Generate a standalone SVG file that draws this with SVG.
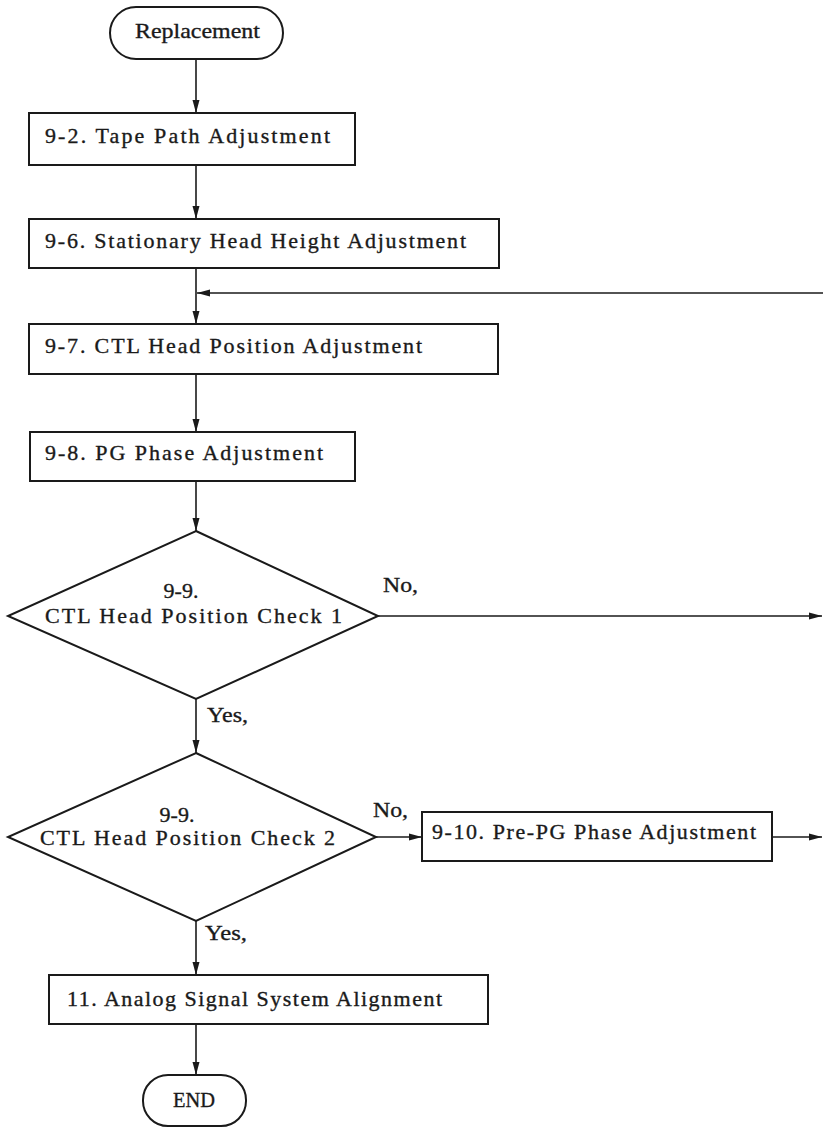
<svg xmlns="http://www.w3.org/2000/svg" width="823" height="1127" viewBox="0 0 823 1127">
<defs>
<marker id="ah" markerWidth="14" markerHeight="10" refX="13" refY="5" orient="auto" markerUnits="userSpaceOnUse">
<path d="M0,1.5 L13,5 L0,8.5 Z" fill="#1a1a1a"/>
</marker>
<style>
.box{fill:#fff;stroke:#1a1a1a;stroke-width:2}
.t{font-family:"Liberation Serif","DejaVu Serif",serif;font-size:22px;fill:#1a1a1a;stroke:#1a1a1a;stroke-width:0.35}
.m{text-anchor:middle}
.c{fill:none;stroke:#1a1a1a;stroke-width:1.6}
</style>
</defs>
<rect width="823" height="1127" fill="#fff"/>
<g id="connectors">
<line class="c" x1="196" y1="59" x2="196" y2="113" marker-end="url(#ah)"/>
<line class="c" x1="196" y1="165" x2="196" y2="219" marker-end="url(#ah)"/>
<line class="c" x1="196" y1="268" x2="196" y2="324" marker-end="url(#ah)"/>
<line class="c" x1="823" y1="293" x2="197" y2="293" marker-end="url(#ah)"/>
<line class="c" x1="196" y1="374" x2="196" y2="432" marker-end="url(#ah)"/>
<line class="c" x1="196" y1="481" x2="196" y2="531" marker-end="url(#ah)"/>
<line class="c" x1="378" y1="616" x2="822" y2="616" marker-end="url(#ah)"/>
<line class="c" x1="196" y1="699" x2="196" y2="753" marker-end="url(#ah)"/>
<line class="c" x1="376" y1="837" x2="422" y2="837" marker-end="url(#ah)"/>
<line class="c" x1="772" y1="837" x2="822" y2="837" marker-end="url(#ah)"/>
<line class="c" x1="196" y1="921" x2="196" y2="975" marker-end="url(#ah)"/>
<line class="c" x1="196" y1="1024" x2="196" y2="1075" marker-end="url(#ah)"/>
<text class="t" x="383" y="592" textLength="35" lengthAdjust="spacingAndGlyphs">No,</text>
<text class="t" x="207" y="722" textLength="41" lengthAdjust="spacingAndGlyphs">Yes,</text>
<text class="t" x="373" y="817" textLength="35" lengthAdjust="spacingAndGlyphs">No,</text>
<text class="t" x="205" y="940" textLength="42" lengthAdjust="spacingAndGlyphs">Yes,</text>
</g>
<g id="n-replacement">
<rect class="box" x="110" y="7" width="173" height="52" rx="26" ry="26"/>
<text class="t" x="135" y="38" textLength="125" lengthAdjust="spacingAndGlyphs">Replacement</text>
</g>
<g id="n-9-2">
<rect class="box" x="29" y="113" width="326" height="52"/>
<text class="t" x="45" y="143" textLength="285" lengthAdjust="spacing">9-2. Tape Path Adjustment</text>
</g>
<g id="n-9-6">
<rect class="box" x="29" y="219" width="470" height="49"/>
<text class="t" x="45" y="248" textLength="421" lengthAdjust="spacing">9-6. Stationary Head Height Adjustment</text>
</g>
<g id="n-9-7">
<rect class="box" x="29" y="324" width="469" height="50"/>
<text class="t" x="45" y="353" textLength="377" lengthAdjust="spacing">9-7. CTL Head Position Adjustment</text>
</g>
<g id="n-9-8">
<rect class="box" x="30" y="432" width="325" height="49"/>
<text class="t" x="45" y="460" textLength="278" lengthAdjust="spacing">9-8. PG Phase Adjustment</text>
</g>
<g id="n-check1">
<polygon class="box" points="196,531 378,616 196,699 8,616"/>
<text class="t m" x="181" y="598">9-9.</text>
<text class="t" x="45" y="623" textLength="297" lengthAdjust="spacing">CTL Head Position Check 1</text>
</g>
<g id="n-check2">
<polygon class="box" points="196,753 376,837 196,921 8,837"/>
<text class="t m" x="177" y="822">9-9.</text>
<text class="t" x="40" y="845" textLength="295" lengthAdjust="spacing">CTL Head Position Check 2</text>
</g>
<g id="n-9-10">
<rect class="box" x="422" y="812" width="350" height="49"/>
<text class="t" x="432" y="839" textLength="324" lengthAdjust="spacing">9-10. Pre-PG Phase Adjustment</text>
</g>
<g id="n-11">
<rect class="box" x="49" y="975" width="439" height="49"/>
<text class="t" x="67" y="1006" textLength="375" lengthAdjust="spacing">11. Analog Signal System Alignment</text>
</g>
<g id="n-end">
<rect class="box" x="143" y="1075" width="103" height="51" rx="25" ry="25"/>
<text class="t" x="173" y="1107" textLength="42" lengthAdjust="spacingAndGlyphs">END</text>
</g>
</svg>
